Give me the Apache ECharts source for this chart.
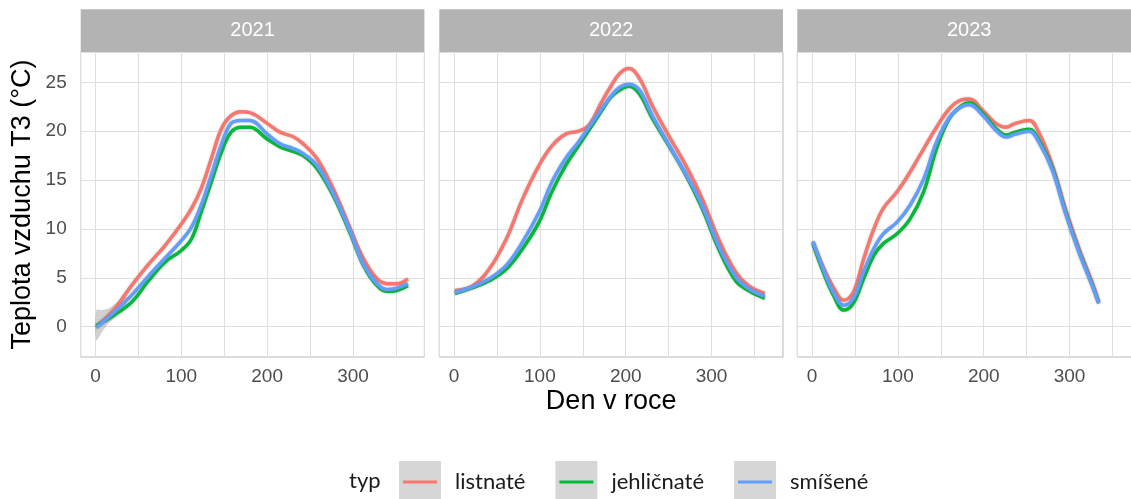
<!DOCTYPE html>
<html><head><meta charset="utf-8">
<script src="https://cdn.jsdelivr.net/npm/echarts@6/dist/echarts.min.js"></script>
<style>html,body{margin:0;padding:0;background:#fff}#c{width:1131px;height:499px}</style>
</head><body><div id="c"></div>
<script>
// ---------- data ----------
const years = ['2021', '2022', '2023'];
const seriesNames = ['listnaté', 'jehličnaté', 'smíšené'];
const seriesColors = ['#F8766D', '#00BA38', '#619CFF'];
const xTickLabels = [0, 100, 200, 300];
const yTickLabels = [0, 5, 10, 15, 20, 25];

const days2021 = [1, 22, 42, 61, 81, 100, 112, 123, 135, 147, 158, 170, 180, 200, 215, 231, 242, 258, 277, 297, 312, 328, 340, 351, 364];
const listnate2021 = [0.0, 1.8, 4.2, 6.3, 8.3, 10.5, 12.1, 14.1, 17.2, 20.3, 21.6, 22.0, 21.9, 20.8, 19.9, 19.4, 18.7, 17.2, 14.1, 10.0, 7.0, 4.9, 4.4, 4.4, 4.9];
const jehlicnate2021 = [0.1, 1.2, 2.5, 4.6, 6.6, 7.8, 9.0, 11.7, 14.8, 17.9, 19.9, 20.4, 20.4, 19.2, 18.4, 17.9, 17.5, 16.2, 13.4, 9.5, 6.3, 4.2, 3.6, 3.7, 4.2];
const smisene2021 = [-0.1, 1.5, 3.2, 5.1, 7.0, 8.8, 10.2, 12.4, 15.5, 18.7, 20.8, 21.1, 21.1, 19.7, 18.7, 18.2, 17.7, 16.5, 13.6, 9.7, 6.4, 4.4, 3.8, 3.95, 4.4];

// confidence band visible at the start of 2021
const ribbonDays2021 = [1, 8, 16, 25, 35];
const ribbonLow2021 = [-1.4, -0.5, 0.4, 1.1, 1.9];
const ribbonHigh2021 = [1.7, 1.7, 1.9, 2.5, 3.4];

const days2022 = [1, 22, 41, 61, 80, 99, 114, 130, 145, 157, 172, 182, 193, 204, 216, 231, 251, 270, 289, 308, 328, 343, 362];
const listnate2022 = [3.7, 4.2, 5.9, 9.0, 13.1, 16.5, 18.5, 19.7, 20.0, 20.6, 23.0, 24.5, 25.9, 26.4, 25.4, 22.6, 19.4, 16.5, 13.1, 9.0, 5.6, 4.2, 3.4];
const jehlicnate2022 = [3.4, 4.0, 4.7, 5.9, 8.0, 10.7, 13.8, 16.5, 18.5, 20.1, 22.1, 23.4, 24.2, 24.6, 23.8, 21.3, 18.4, 15.5, 12.1, 8.0, 4.7, 3.7, 2.9];
const smisene2022 = [3.5, 4.1, 4.9, 6.3, 8.7, 11.7, 14.8, 17.2, 18.9, 20.4, 22.3, 23.5, 24.5, 24.8, 24.2, 21.6, 18.5, 15.6, 12.4, 8.3, 5.1, 3.9, 3.1];

const days2023 = [1, 13, 25, 37, 48, 60, 72, 83, 99, 114, 130, 145, 160, 174, 183, 199, 214, 226, 237, 253, 264, 280, 295, 311, 326, 334];
const listnate2023 = [8.7, 6.1, 4.0, 2.7, 3.5, 6.9, 10.0, 12.1, 13.8, 15.8, 18.2, 20.4, 22.3, 23.2, 23.3, 22.1, 20.8, 20.4, 20.8, 21.1, 19.9, 16.5, 12.1, 8.0, 4.6, 2.5];
const jehlicnate2023 = [8.5, 5.6, 3.2, 1.7, 2.4, 4.9, 7.3, 8.5, 9.5, 11.0, 13.8, 18.2, 21.3, 22.6, 22.9, 21.8, 20.3, 19.6, 19.9, 20.2, 19.1, 16.2, 11.8, 7.7, 4.35, 2.4];
const smisene2023 = [8.7, 5.9, 3.5, 2.2, 2.9, 5.6, 8.0, 9.5, 10.7, 12.4, 15.1, 18.9, 21.4, 22.5, 22.7, 21.6, 20.1, 19.4, 19.7, 20.0, 18.9, 16.0, 11.7, 7.6, 4.3, 2.4];

const daysByYear = [days2021, days2022, days2023];
const valuesByYear = [
  [listnate2021, jehlicnate2021, smisene2021],
  [listnate2022, jehlicnate2022, smisene2022],
  [listnate2023, jehlicnate2023, smisene2023]
];

// ---------- layout ----------
const GRID_LEFTS = [80.7, 439.3, 797.3];
const GRID_W = 343.7, GRID_TOP = 52, GRID_H = 305;
const STRIP_TOP = 9.3, STRIP_H = 42.7;
const AXIS_FONT = '"Liberation Sans", Arial, Helvetica, sans-serif';
const LEGEND_FONT = 'Lato, "Open Sans", sans-serif';

const chart = echarts.init(document.getElementById('c'), null, {renderer: 'canvas'});

const grids = [], xAxes = [], yAxes = [], series = [], graphics = [];

// ribbon polygon (through the axis scales), drawn under the lines
series.push({
  type: 'custom', name: 'ribbon', xAxisIndex: 0, yAxisIndex: 0, silent: true, z: 1,
  data: [[ribbonDays2021[0], ribbonLow2021[0]]],
  renderItem: function (params, api) {
    const up = ribbonDays2021.map((d, k) => api.coord([d, ribbonHigh2021[k]]));
    const lo = ribbonDays2021.map((d, k) => api.coord([d, ribbonLow2021[k]])).reverse();
    return {
      type: 'polygon',
      shape: {points: up.concat(lo), smooth: 0.3},
      style: {fill: 'rgba(153,153,153,0.45)'}
    };
  }
});

years.forEach((yr, i) => {
  grids.push({
    left: GRID_LEFTS[i], top: GRID_TOP, width: GRID_W, height: GRID_H,
    show: true, borderColor: '#B3B3B3', borderWidth: 1, backgroundColor: '#fff',
    containLabel: false, outerBoundsMode: 'none'
  });
  xAxes.push({
    type: 'value', gridIndex: i, min: -17.2, max: 383.2, splitNumber: 8,
    axisLine: {show: false}, axisTick: {show: false},
    axisLabel: {
      show: true, customValues: xTickLabels, margin: 10,
      color: '#4D4D4D', fontSize: 19, fontFamily: AXIS_FONT,
      formatter: v => (xTickLabels.indexOf(v) >= 0 ? String(v) : '')
    },
    splitLine: {show: true, lineStyle: {color: '#DEDEDE', width: 1}},
    name: i === 1 ? 'Den v roce' : '', nameLocation: 'middle', nameGap: 31,
    nameMoveOverlap: false,
    nameTextStyle: {fontSize: 27, color: '#000', fontFamily: AXIS_FONT}
  });
  yAxes.push({
    type: 'value', gridIndex: i, min: -3.1, max: 28.1, splitNumber: 6,
    axisLine: {show: false}, axisTick: {show: false},
    axisLabel: {
      show: i === 0, customValues: yTickLabels, margin: 14,
      color: '#4D4D4D', fontSize: 19, fontFamily: AXIS_FONT,
      formatter: v => (yTickLabels.indexOf(v) >= 0 ? String(v) : '')
    },
    splitLine: {show: true, lineStyle: {color: '#DEDEDE', width: 1}},
    name: i === 0 ? 'Teplota vzduchu T3 (°C)' : '', nameLocation: 'middle', nameGap: 45,
    nameRotate: 90, nameMoveOverlap: false,
    nameTextStyle: {fontSize: 27, color: '#000', fontFamily: AXIS_FONT}
  });
  seriesNames.forEach((nm, j) => {
    const days = daysByYear[i], vals = valuesByYear[i][j];
    series.push({
      type: 'line', name: nm, xAxisIndex: i, yAxisIndex: i,
      data: days.map((d, k) => [d, vals[k]]),
      smooth: 0.4, showSymbol: false, symbol: 'none',
      color: seriesColors[j],
      lineStyle: {width: 3.5, color: seriesColors[j], shadowBlur: 2, shadowColor: 'rgba(110,110,110,0.45)'},
      emphasis: {disabled: true}, z: 3 + j
    });
  });
  graphics.push({
    type: 'rect', shape: {x: GRID_LEFTS[i], y: STRIP_TOP, width: GRID_W, height: STRIP_H},
    style: {fill: '#B3B3B3'}, silent: true
  });
  graphics.push({
    type: 'text', silent: true,
    style: {
      x: GRID_LEFTS[i] + GRID_W / 2, y: STRIP_TOP + STRIP_H / 2, text: yr,
      fill: '#FFFFFF', fontSize: 20, fontFamily: AXIS_FONT,
      align: 'center', verticalAlign: 'middle'
    }
  });
});

const legendBase = {
  left: 399, top: 461, orient: 'horizontal', padding: 0,
  itemWidth: 42, itemHeight: 42, itemGap: 30, selectedMode: false,
  data: seriesNames
};

chart.setOption({
  animation: false,
  backgroundColor: '#fff',
  title: {
    text: 'typ', left: 349, top: 470, padding: 0,
    textStyle: {fontFamily: LEGEND_FONT, fontSize: 22, fontWeight: 'normal', color: '#1A1A1A'}
  },
  legend: [
    Object.assign({}, legendBase, {
      icon: 'rect',
      itemStyle: {color: '#D6D6D6', borderWidth: 0},
      textStyle: {fontFamily: LEGEND_FONT, fontSize: 22, color: '#1A1A1A', padding: [0, 0, 0, 9]},
      z: 4
    }),
    Object.assign({}, legendBase, {
      icon: 'path://M0,0L0.01,0L0,0.01Z M42,42L41.99,42L42,41.99Z M4,19.5L38,19.5L38,22.5L4,22.5Z',
      itemStyle: {borderWidth: 0},
      textStyle: {fontFamily: LEGEND_FONT, fontSize: 22, color: 'rgba(0,0,0,0)', padding: [0, 0, 0, 9]},
      z: 5
    })
  ],
  grid: grids, xAxis: xAxes, yAxis: yAxes, series: series,
  graphic: {elements: graphics}
});
</script></body></html>
